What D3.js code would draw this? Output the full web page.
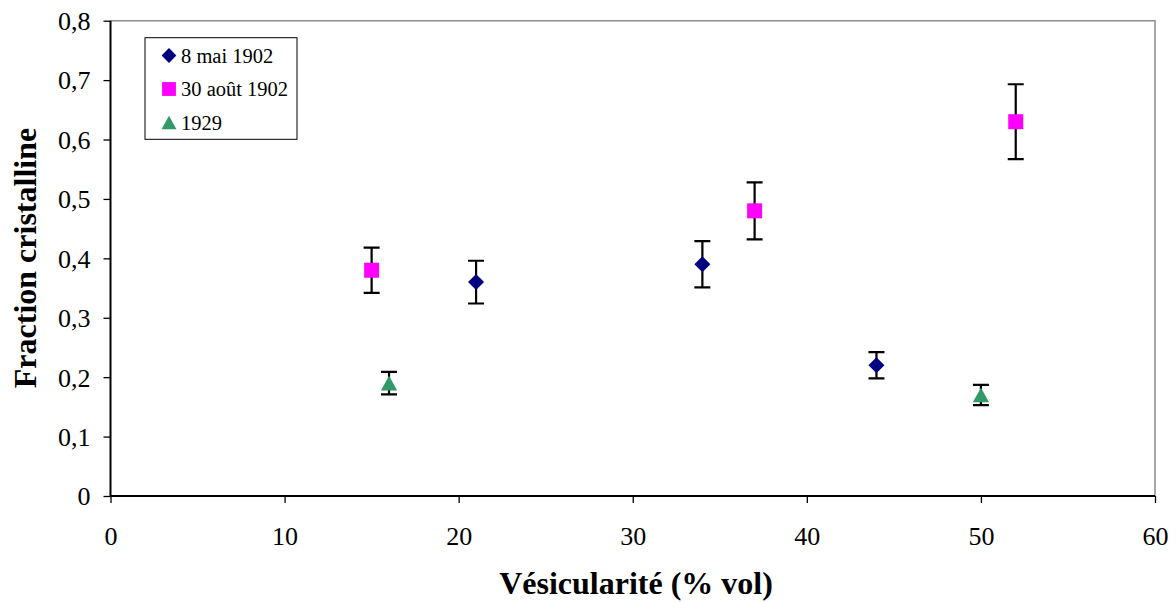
<!DOCTYPE html>
<html><head><meta charset="utf-8">
<script src="https://cdn.jsdelivr.net/npm/d3@7"></script>
<style>body{margin:0;background:#fff}svg{display:block}</style>
</head><body><svg id="c" width="1176" height="602"></svg>
<script>
const seriesNames = ["8 mai 1902", "30 août 1902", "1929"];
const xMai = [21, 34, 44];
const yMai = [0.36, 0.39, 0.22];
const eMai = [0.036, 0.039, 0.022];
const xAout = [15, 37, 52];
const yAout = [0.38, 0.48, 0.63];
const eAout = [0.038, 0.048, 0.063];
const x1929 = [16, 50];
const y1929 = [0.19, 0.17];
const e1929 = [0.019, 0.017];
const xTicks = [0, 10, 20, 30, 40, 50, 60];
const yTicks = [0, 0.1, 0.2, 0.3, 0.4, 0.5, 0.6, 0.7, 0.8];
const xTitle = "Vésicularité (% vol)";
const yTitle = "Fraction cristalline";

const FONT = '"Liberation Serif", "Times New Roman", serif';
const colors = ["#000080", "#FF00FF", "#339966"];
const diamond = {draw(ctx, size){ const r = Math.sqrt(size/2); ctx.moveTo(0,-r); ctx.lineTo(r,0); ctx.lineTo(0,r); ctx.lineTo(-r,0); ctx.closePath(); }};
const tri = {draw(ctx, size){ const w = Math.sqrt(size*1.1); const h = w*0.9; ctx.moveTo(0,-h/2); ctx.lineTo(w/2,h/2); ctx.lineTo(-w/2,h/2); ctx.closePath(); }};
const shapes = [diamond, d3.symbolSquare, tri];
const sizes = [128, 225, 240];

const svg = d3.select("#c");
const L = 110.5, R = 1155, T = 20.7, B = 496;
const x = d3.scaleLinear().domain([0, 60]).range([L, R]);
const y = d3.scaleLinear().domain([0, 0.8]).range([B, T]);

svg.append("path").attr("d", `M${L},${T}H${R}V${B}`).attr("fill","none").attr("stroke","#8c8c8c").attr("stroke-width",1.5);

const fmt = d => d === 0 ? "0" : d3.format(".1f")(d).replace(".", ",");
const gx = svg.append("g").attr("transform", `translate(0,${B})`)
  .call(d3.axisBottom(x).tickValues(xTicks).tickSize(7).tickPadding(0).tickFormat(d3.format("d")));
const gy = svg.append("g").attr("transform", `translate(${L},0)`)
  .call(d3.axisLeft(y).tickValues(yTicks).tickSize(7).tickPadding(13).tickFormat(fmt));
[gx, gy].forEach(g => {
  g.attr("font-family", null).attr("font-size", null);
  g.select(".domain").attr("stroke", "#000").attr("stroke-width", 2);
  g.selectAll(".tick line").attr("stroke", "#000").attr("stroke-width", 1.3);
  g.selectAll(".tick text").style("font-size", "26px").style("font-family", FONT).attr("fill", "#000");
});
gy.select(".domain").attr("d", `M0,${B}V${T}`);
gy.selectAll(".tick text").attr("dy", "0.34em");
gx.selectAll(".tick text").attr("y", 49).attr("dy", null);
gx.select(".domain").attr("d", `M${L},0H${R}`);

const data = [
  {xs: xMai, ys: yMai, es: eMai},
  {xs: xAout, ys: yAout, es: eAout},
  {xs: x1929, ys: y1929, es: e1929}
];
const cap = 8;
data.forEach((s, i) => {
  const pts = s.xs.map((v, j) => ({x: v, y: s.ys[j], e: s.es[j]}));
  const g = svg.append("g");
  pts.forEach(p => {
    const cx = x(p.x), y0 = y(p.y + p.e), y1 = y(p.y - p.e);
    g.append("path").attr("d", `M${cx},${y0}V${y1}M${cx-cap},${y0}H${cx+cap}M${cx-cap},${y1}H${cx+cap}`)
      .attr("stroke", "#000").attr("stroke-width", 2.2).attr("fill", "none");
  });
  g.selectAll("path.m").data(pts).enter().append("path").attr("class","m")
    .attr("d", d3.symbol().type(shapes[i]).size(sizes[i]))
    .attr("transform", d => `translate(${x(d.x)},${y(d.y)})`)
    .attr("fill", colors[i]);
});

const lg = svg.append("g");
lg.append("rect").attr("x", 145).attr("y", 37.7).attr("width", 152).attr("height", 101.6)
  .attr("fill", "#fff").attr("stroke", "#000").attr("stroke-width", 1);
seriesNames.forEach((n, i) => {
  const yy = 55.5 + i * 33.5;
  lg.append("path").attr("d", d3.symbol().type(shapes[i]).size(sizes[i]*0.85))
    .attr("transform", `translate(169,${yy})`).attr("fill", colors[i]);
  lg.append("text").attr("x", 181).attr("y", yy).attr("dy", "0.35em")
    .style("font-size", "20.5px").style("font-family", FONT).text(n);
});

svg.append("text").attr("x", 636).attr("y", 594).attr("text-anchor", "middle")
  .style("font-size", "32px").style("font-family", FONT).style("font-weight", "bold").text(xTitle);
svg.append("text").attr("transform", "translate(36,258) rotate(-90)").attr("text-anchor", "middle")
  .style("font-size", "32px").style("font-family", FONT).style("font-weight", "bold").text(yTitle);
</script></body></html>
